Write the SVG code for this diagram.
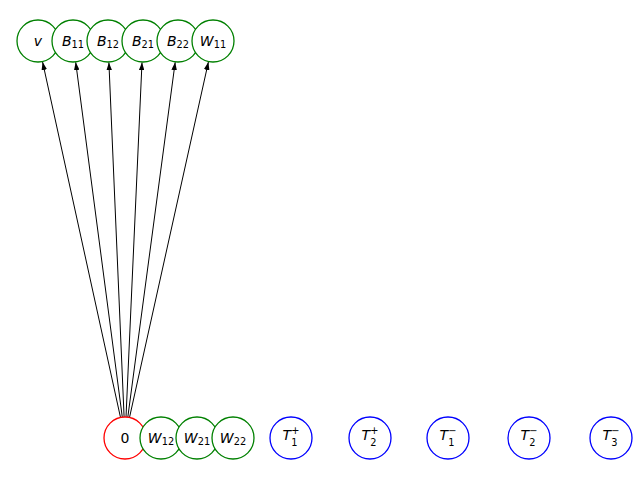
<svg xmlns="http://www.w3.org/2000/svg" width="640" height="480" viewBox="0 0 640 480">
<defs>
<style>
.g{fill:#fff;stroke:#008000;stroke-width:1.3}
.r{fill:#fff;stroke:#ff0000;stroke-width:1.3}
.b{fill:#fff;stroke:#0000ff;stroke-width:1.3}
text{font-family:"DejaVu Sans",sans-serif;font-size:14px;text-anchor:middle;fill:#000}
.i{font-style:italic}
.s{font-size:9.8px}
.e{stroke:#000;stroke-width:1;fill:none;marker-end:url(#a)}
</style>
<marker id="a" viewBox="0 0 8 5.6" refX="8" refY="2.8" markerWidth="8" markerHeight="5.6" markerUnits="userSpaceOnUse" orient="auto">
<path d="M0,0 L8,2.8 L0,5.6 z" fill="#000"/>
</marker>
</defs>
<rect width="640" height="480" fill="#fff"/>
<g id="edges">
<line class="e" x1="120.5" y1="417.5" x2="42.6" y2="62.0"/>
<line class="e" x1="122.3" y1="417.2" x2="75.7" y2="62.2"/>
<line class="e" x1="124.1" y1="417.0" x2="108.9" y2="62.4"/>
<line class="e" x1="126.0" y1="417.0" x2="142.0" y2="62.4"/>
<line class="e" x1="127.8" y1="417.2" x2="175.2" y2="62.2"/>
<line class="e" x1="129.5" y1="417.5" x2="208.4" y2="62.0"/>
</g>
<g id="n_v"><circle class="g" cx="38" cy="41" r="21"/><text x="38" y="46"><tspan class="i">v</tspan></text></g>
<g id="n_B11"><circle class="g" cx="73" cy="41" r="21"/><text x="73" y="46"><tspan class="i">B</tspan><tspan class="s" dy="1.8">11</tspan></text></g>
<g id="n_B12"><circle class="g" cx="108" cy="41" r="21"/><text x="108" y="46"><tspan class="i">B</tspan><tspan class="s" dy="1.8">12</tspan></text></g>
<g id="n_B21"><circle class="g" cx="143" cy="41" r="21"/><text x="143" y="46"><tspan class="i">B</tspan><tspan class="s" dy="1.8">21</tspan></text></g>
<g id="n_B22"><circle class="g" cx="178" cy="41" r="21"/><text x="178" y="46"><tspan class="i">B</tspan><tspan class="s" dy="1.8">22</tspan></text></g>
<g id="n_W11"><circle class="g" cx="213" cy="41" r="21"/><text x="213" y="46"><tspan class="i">W</tspan><tspan class="s" dy="1.8">11</tspan></text></g>
<g id="n_0"><circle class="r" cx="125" cy="438" r="21"/><text x="125" y="443">0</text></g>
<g id="n_W12"><circle class="g" cx="161" cy="438" r="21"/><text x="161" y="443"><tspan class="i">W</tspan><tspan class="s" dy="1.8">12</tspan></text></g>
<g id="n_W21"><circle class="g" cx="197" cy="438" r="21"/><text x="197" y="443"><tspan class="i">W</tspan><tspan class="s" dy="1.8">21</tspan></text></g>
<g id="n_W22"><circle class="g" cx="233" cy="438" r="21"/><text x="233" y="443"><tspan class="i">W</tspan><tspan class="s" dy="1.8">22</tspan></text></g>
<g id="n_T1p"><circle class="b" cx="291" cy="438" r="21"/><text x="291" y="440"><tspan class="i">T</tspan><tspan class="s" dy="6">1</tspan><tspan class="s" dx="-6.2" dy="-12">+</tspan></text></g>
<g id="n_T2p"><circle class="b" cx="370" cy="438" r="21"/><text x="370" y="440"><tspan class="i">T</tspan><tspan class="s" dy="6">2</tspan><tspan class="s" dx="-6.2" dy="-12">+</tspan></text></g>
<g id="n_T1m"><circle class="b" cx="448" cy="438" r="21"/><text x="448" y="440"><tspan class="i">T</tspan><tspan class="s" dy="6">1</tspan><tspan class="s" dx="-6.2" dy="-12">−</tspan></text></g>
<g id="n_T2m"><circle class="b" cx="529" cy="438" r="21"/><text x="529" y="440"><tspan class="i">T</tspan><tspan class="s" dy="6">2</tspan><tspan class="s" dx="-6.2" dy="-12">−</tspan></text></g>
<g id="n_T3m"><circle class="b" cx="611" cy="438" r="21"/><text x="611" y="440"><tspan class="i">T</tspan><tspan class="s" dy="6">3</tspan><tspan class="s" dx="-6.2" dy="-12">−</tspan></text></g>
</svg>
